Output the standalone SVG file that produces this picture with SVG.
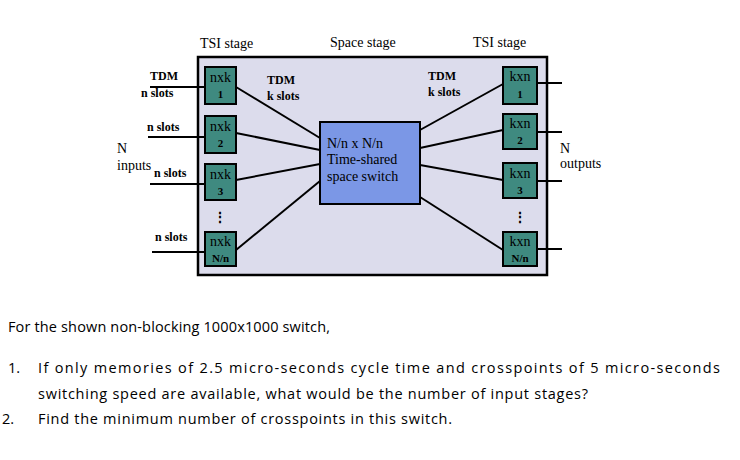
<svg xmlns="http://www.w3.org/2000/svg" width="740" height="460" viewBox="0 0 740 460">
<style>
.s{font-family:"Liberation Serif",serif;font-size:14px;fill:#000}
.b{font-family:"Liberation Serif",serif;font-size:12px;font-weight:bold;fill:#000}
.t{font-family:"Liberation Serif",serif;font-size:14px;fill:#000}
.q{font-family:"Open Sans","Liberation Sans",sans-serif;font-size:14.5px;fill:#000}
.tsi{fill:#3f8a80;stroke:#000;stroke-width:2}
.bl{fill:#000;font-family:"Liberation Serif",serif;font-size:11px;font-weight:bold}
line{stroke:#000;stroke-width:2}
</style>
<rect width="740" height="460" fill="#fff"/>
<rect x="198" y="57" width="349" height="218" fill="#dcdcec" stroke="#000" stroke-width="2.5"/>
<text class="t" x="200" y="48">TSI stage</text>
<text class="t" x="330" y="47">Space stage</text>
<text class="t" x="473" y="47">TSI stage</text>
<g id="connectors">
<line x1="150" y1="87" x2="205" y2="87"/><line x1="148" y1="137" x2="205" y2="137"/><line x1="150" y1="184" x2="205" y2="184"/><line x1="152" y1="252" x2="205" y2="252"/>
<line x1="537" y1="83" x2="562" y2="83"/><line x1="537" y1="132" x2="562" y2="132"/><line x1="537" y1="181" x2="562" y2="181"/><line x1="537" y1="249" x2="562" y2="249"/>
<line x1="236" y1="87" x2="320" y2="138"/><line x1="236" y1="133" x2="320" y2="150"/><line x1="236" y1="180" x2="320" y2="164"/><line x1="236" y1="250" x2="320" y2="181"/>
<line x1="420" y1="130" x2="503" y2="84"/><line x1="420" y1="148" x2="503" y2="130"/><line x1="420" y1="165" x2="503" y2="180"/><line x1="420" y1="197" x2="503" y2="250"/>
</g>
<g id="in1"><rect class="tsi" x="205" y="67" width="31" height="37"/><text class="s" x="220.5" y="82" text-anchor="middle">nxk</text><text class="bl" x="220.5" y="98" text-anchor="middle">1</text></g>
<g id="in2"><rect class="tsi" x="205" y="116" width="31" height="37"/><text class="s" x="220.5" y="131" text-anchor="middle">nxk</text><text class="bl" x="220.5" y="147" text-anchor="middle">2</text></g>
<g id="in3"><rect class="tsi" x="205" y="164" width="31" height="36"/><text class="s" x="220.5" y="179" text-anchor="middle">nxk</text><text class="bl" x="220.5" y="195" text-anchor="middle">3</text></g>
<g id="in4"><rect class="tsi" x="205" y="232" width="31" height="34"/><text class="s" x="220.5" y="246" text-anchor="middle">nxk</text><text class="bl" x="220.5" y="262" text-anchor="middle">N/n</text></g>
<g id="out1"><rect class="tsi" x="503" y="67" width="34" height="37"/><text class="s" x="520" y="81" text-anchor="middle">kxn</text><text class="bl" x="520" y="98" text-anchor="middle">1</text></g>
<g id="out2"><rect class="tsi" x="503" y="114" width="34" height="35"/><text class="s" x="520" y="128" text-anchor="middle">kxn</text><text class="bl" x="520" y="144" text-anchor="middle">2</text></g>
<g id="out3"><rect class="tsi" x="503" y="163" width="34" height="35"/><text class="s" x="520" y="178" text-anchor="middle">kxn</text><text class="bl" x="520" y="194" text-anchor="middle">3</text></g>
<g id="out4"><rect class="tsi" x="503" y="232" width="34" height="34"/><text class="s" x="520" y="246" text-anchor="middle">kxn</text><text class="bl" x="520" y="262" text-anchor="middle">N/n</text></g>
<g id="space"><rect x="320" y="122" width="100" height="82" fill="#7b97e6" stroke="#000" stroke-width="2"/>
<text class="t" x="327" y="148">N/n x N/n</text><text class="t" x="327" y="164">Time-shared</text><text class="t" x="327" y="181">space switch</text></g>
<text class="t" x="220" y="222" text-anchor="middle" font-weight="bold">⋮</text>
<text class="t" x="520" y="222" text-anchor="middle" font-weight="bold">⋮</text>
<text class="b" x="150" y="80">TDM</text><text class="b" x="141" y="97">n slots</text>
<text class="b" x="267" y="84">TDM</text><text class="b" x="267" y="100">k slots</text>
<text class="b" x="428" y="80">TDM</text><text class="b" x="428" y="96">k slots</text>
<text class="b" x="147" y="131">n slots</text>
<text class="b" x="154" y="177">n slots</text>
<text class="b" x="155" y="241">n slots</text>
<text class="t" x="117" y="153">N</text><text class="t" x="117" y="170">inputs</text>
<text class="t" x="560" y="153">N</text><text class="t" x="560" y="168">outputs</text>
<text class="q" x="8" y="332" textLength="322">For the shown non-blocking 1000x1000 switch,</text>
<text class="q" x="8" y="373">1.</text>
<text class="q" x="38" y="373" textLength="682">If only memories of 2.5 micro-seconds cycle time and crosspoints of 5 micro-seconds</text>
<text class="q" x="38" y="399" textLength="550">switching speed are available, what would be the number of input stages?</text>
<text class="q" x="2" y="424">2.</text>
<text class="q" x="38" y="424" textLength="414">Find the minimum number of crosspoints in this switch.</text>
</svg>
